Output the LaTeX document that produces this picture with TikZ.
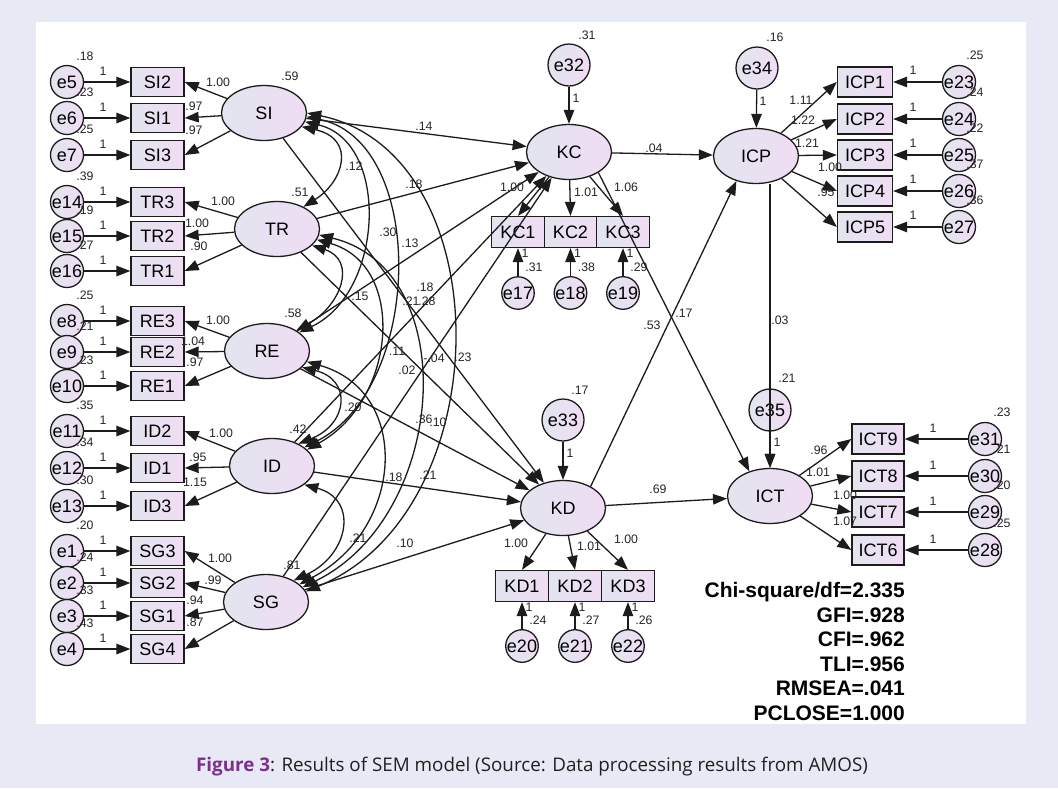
\documentclass[tikz,border=0pt]{standalone}
\usepackage{fontspec}
\setmainfont{Liberation Sans}
\newfontfamily\capfont{Open Sans}
\usetikzlibrary{shapes.geometric,arrows.meta,calc}
\definecolor{bgc}{HTML}{E7EAF5}
\definecolor{gA}{HTML}{E2E5EF}
\definecolor{gB}{HTML}{F0DCF4}
\definecolor{linec}{HTML}{1C1C1C}
\definecolor{txtc}{HTML}{262626}
\definecolor{capp}{HTML}{7E2E8C}
\definecolor{capt}{HTML}{231F20}
\newcommand\myNodeFont{\fontsize{18}{21}\selectfont}
\newcommand\myLblFont{\fontsize{12.3}{14}\selectfont}
\tikzset{
  lat/.style={ellipse, draw=linec, line width=1.3pt, left color=gA, right color=gB,
    minimum width=85pt, minimum height=55pt, inner sep=0pt, font=\myNodeFont},
  obs/.style={rectangle, draw=linec, line width=1.3pt, left color=gA, right color=gB,
    minimum width=53pt, minimum height=29pt, inner sep=0pt, font=\myNodeFont},
  err/.style={circle, draw=linec, line width=1.3pt, left color=gA, right color=gB,
    minimum size=33pt, inner sep=0pt, font=\myNodeFont},
  dist/.style={err, minimum size=42pt},
  pth/.style={draw=linec, line width=1.3pt, -{Triangle[length=14pt,width=10.5pt]}},
  cov/.style={draw=linec, line width=1.3pt, {Triangle[length=14pt,width=10.5pt]}-{Triangle[length=14pt,width=10.5pt]}},
  lbl/.style={font=\myLblFont, inner sep=0pt, text=txtc},
  fit/.style={font=\fontsize{21}{24}\selectfont\bfseries, inner sep=0pt, anchor=base east, text=black},
}
\begin{document}
\begin{tikzpicture}[x=1pt,y=-1pt]
\useasboundingbox (0,0) rectangle (1058,788);
\fill[bgc] (0,0) rectangle (1058,788);
\fill[white] (36,22) rectangle (1026,724);

% latent variables
\node[lat] (SI) at (264,113) {SI};
\node[lat] (TR) at (277,229) {TR};
\node[lat] (RE) at (267,351) {RE};
\node[lat] (ID) at (272,466) {ID};
\node[lat] (SG) at (266,602) {SG};
\node[lat] (KC) at (569,152) {KC};
\node[lat] (KD) at (563,508) {KD};
\node[lat] (ICP) at (756,156) {ICP};
\node[lat] (ICT) at (770,496) {ICT};

\node[lbl] (vSI) at (290,76) {.59};
\node[lbl] (vTR) at (300,192) {.51};
\node[lbl] (vRE) at (293,313) {.58};
\node[lbl] (vID) at (298,429) {.42};
\node[lbl] (vSG) at (292,565) {.81};

% left indicators
\foreach \e/\b/\y/\v in {e5/SI2/82/.18, e6/SI1/118/.23, e7/SI3/155/.25,
  e14/TR3/202/.39, e15/TR2/236/.19, e16/TR1/271/.27,
  e8/RE3/321/.25, e9/RE2/352/.21, e10/RE1/386/.23,
  e11/ID2/431/.35, e12/ID1/468/.34, e13/ID3/506/.30,
  e1/SG3/551/.20, e2/SG2/583/.24, e3/SG1/616/.33, e4/SG4/649/.43} {
  \node[err] (\e) at (67,\y) {\e};
  \node[obs] (\b) at (157.5,\y) {\b};
  \node[lbl] (v\e) at (85,\y-26) {\v};
  \node[lbl] (o\e) at (103,\y-11) {1};
  \draw[pth] (\e) -- (\b);
}
\foreach \l/\b in {SI/SI2, SI/SI1, SI/SI3, TR/TR3, TR/TR2, TR/TR1, RE/RE3, RE/RE2, RE/RE1,
  ID/ID2, ID/ID1, ID/ID3, SG/SG3, SG/SG2, SG/SG1, SG/SG4}
  \draw[pth] (\l) -- (\b.east);

% KC indicators
\foreach \b/\e/\x/\v in {KC1/e17/518/.31, KC2/e18/570.5/.38, KC3/e19/623/.29} {
  \node[obs, minimum width=52.5pt, minimum height=31pt] (\b) at (\x,232) {\b};
  \node[err, minimum size=32pt] (\e) at (\x,293) {\e};
  \node[lbl] (o\e) at (\x+7,253) {1};
  \node[lbl] (v\e) at (\x+16,267) {\v};
  \draw[pth] (\e) -- (\b);
  \draw[pth] (KC) -- (\b.north);
}
% KD indicators
\foreach \b/\e/\x/\v in {KD1/e20/522/.24, KD2/e21/575/.27, KD3/e22/628/.26} {
  \node[obs, minimum width=53pt, minimum height=31pt] (\b) at (\x,586) {\b};
  \node[err, minimum size=32pt] (\e) at (\x,646) {\e};
  \node[lbl] (o\e) at (\x+7,607) {1};
  \node[lbl] (v\e) at (\x+16,620) {\v};
  \draw[pth] (\e) -- (\b);
  \draw[pth] (KD) -- (\b.north);
}
% ICP indicators
\foreach \e/\b/\y/\v in {e23/ICP1/82/.25, e24/ICP2/119/.24, e25/ICP3/155/.22, e26/ICP4/191/.37, e27/ICP5/227/.36} {
  \node[obs, minimum width=55pt, minimum height=30pt] (\b) at (865,\y) {\b};
  \node[err] (\e) at (959,\y) {\e};
  \node[lbl] (v\e) at (975,\y-27) {\v};
  \node[lbl] (o\e) at (913,\y-12) {1};
  \draw[pth] (\e) -- (\b);
  \draw[pth] (ICP) -- (\b.west);
}
% ICT indicators
\foreach \e/\b/\y/\v in {e31/ICT9/439/.23, e30/ICT8/476/.21, e29/ICT7/512/.20, e28/ICT6/550/.25} {
  \node[obs, minimum width=52pt, minimum height=30pt] (\b) at (878,\y) {\b};
  \node[err] (\e) at (985,\y) {\e};
  \node[lbl] (v\e) at (1002,\y-27) {\v};
  \node[lbl] (o\e) at (933,\y-11) {1};
  \draw[pth] (\e) -- (\b);
  \draw[pth] (ICT) -- (\b.west);
}

% disturbances
\node[dist] (e32) at (569,65) {e32};
\node[lbl] (ve32) at (587,35) {.31};
\node[lbl] (oe32) at (576,98) {1};
\draw[pth] (e32) -- (KC);
\node[dist] (e34) at (757,68) {e34};
\node[lbl] (ve34) at (775,37) {.16};
\node[lbl] (oe34) at (763,101) {1};
\draw[pth] (e34) -- (ICP);
\node[dist] (e33) at (563,420) {e33};
\node[lbl] (ve33) at (580,390) {.17};
\node[lbl] (oe33) at (570,453) {1};
\draw[pth] (e33) -- (KD);
\node[dist] (e35) at (770,410) {e35};
\node[lbl] (ve35) at (787,378) {.21};
\node[lbl] (oe35) at (777,442) {1};
\draw[pth] (e35) -- (ICT);

% structural paths
\foreach \s in {SI,TR,RE,ID,SG} {
  \draw[pth] (\s) -- (KC);
  \draw[pth] (\s) -- (KD);
}
\draw[pth] (KC) -- (ICP);
\draw[pth] (KD) -- (ICT);
\draw[pth] (KC.-35) -- (ICT.130);
\draw[pth] (KD.38) -- (ICP.-128);
\draw[pth] (ICP.south -| ICT.north) -- (ICT.north);

% covariances
\draw[cov] (SI.-20) .. controls +(55,12) and +(40,-25) .. (TR.40);
\draw[cov] (SI.-12) .. controls +(85,20) and +(85,-40) .. (RE.30);
\draw[cov] (SI.-5) .. controls +(120,25) and +(120,-60) .. (ID.30);
\draw[cov] (SI.0) .. controls +(195,40) and +(195,-80) .. (SG.15);
\draw[cov] (TR.-25) .. controls +(45,15) and +(45,-25) .. (RE.35);
\draw[cov] (TR.-15) .. controls +(90,25) and +(90,-50) .. (ID.25);
\draw[cov] (TR.-8) .. controls +(145,35) and +(145,-70) .. (SG.22);
\draw[cov] (RE.-25) .. controls +(50,12) and +(50,-20) .. (ID.40);
\draw[cov] (RE.-15) .. controls +(105,30) and +(105,-55) .. (SG.28);
\draw[cov] (ID.-30) .. controls +(55,15) and +(55,-25) .. (SG.38);

% path labels
\foreach \x/\y/\t [count=\i] in {218/82/1.00, 194/106/.97, 194/130/.97,
  223/201/1.00, 197/223/1.00, 199/246/.90,
  218/320/1.00, 193/341/1.04, 195/362/.97,
  221/433/1.00, 198/457/.95, 195/482/1.15,
  220/558/1.00, 213/580/.99, 195/600/.94, 195/622/.87,
  512/187/1.00, 586/192/1.01, 626/187/1.06, 654/148/.04,
  516/543/1.00, 589/546/1.01, 626/539/1.00, 658/489/.69,
  801/100/1.11, 803/120/1.22, 807/143/1.21, 830/167/1.00, 826/192/.95,
  819/450/.96, 818/472/1.01, 845/495/1.00, 845/521/1.07,
  684/313/.17, 652/325/.53, 780/320/.03,
  424/126/.14, 354/166/.12, 414/184/.18, 388/232/.30, 410/243/.13,
  360/296/.15, 425/287/.18, 411/301/.21, 427/301/.28,
  397/351/.11, 434/358/-.04, 463/357/.23, 407/370/.02, 353/407/.20,
  424/419/.36, 438/422/.10, 394/477/.18, 428/475/.21, 358/538/.21, 405/543/.10}
  \node[lbl] (pl\i) at (\x,\y) {\t};

% fit statistics
\node[fit] (f1) at (905,597.5) {Chi-square/df=2.335};
\node[fit] (f2) at (905,622.1) {GFI=.928};
\node[fit] (f3) at (905,646.7) {CFI=.962};
\node[fit] (f4) at (905,671.3) {TLI=.956};
\node[fit] (f5) at (905,695.9) {RMSEA=.041};
\node[fit] (f6) at (905,720.5) {PCLOSE=1.000};

% caption
\node[anchor=base, inner sep=0pt, text=capt, font=\capfont\fontsize{18.8}{22}\selectfont] (cap) at (532,771)
  {{\bfseries\color{capp}Figure 3}: Results of SEM model (Source: Data processing results from AMOS)};
\end{tikzpicture}
\end{document}
